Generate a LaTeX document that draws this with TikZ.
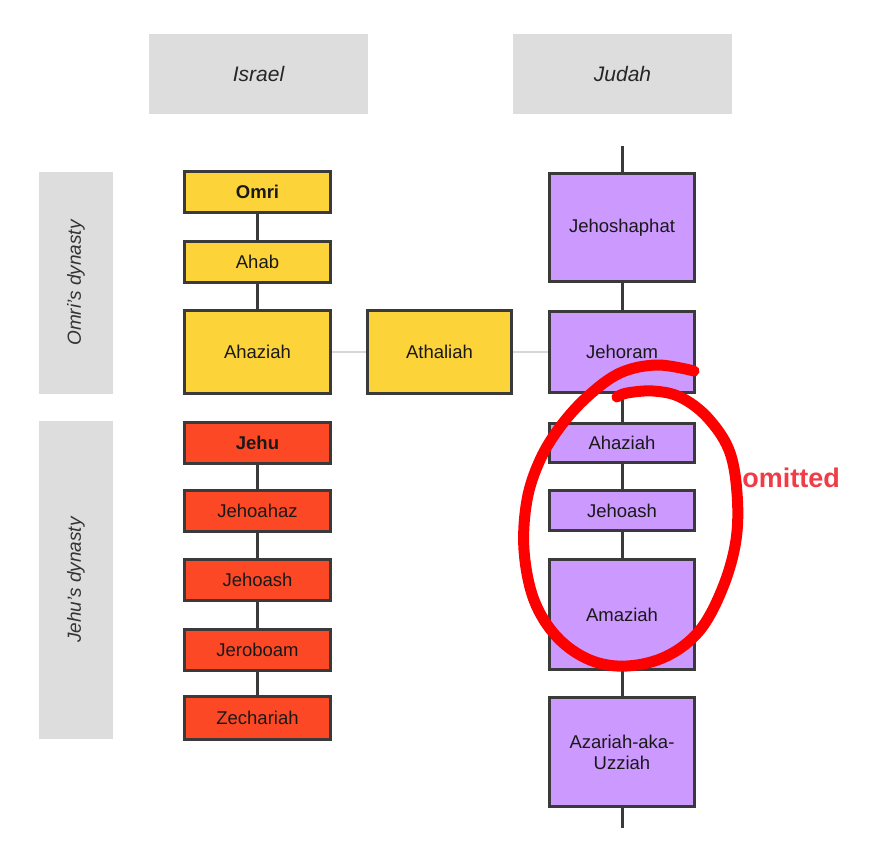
\documentclass[tikz,border=0pt]{standalone}
\usepackage{fontspec}
\setmainfont{Liberation Sans}
\definecolor{kyellow}{RGB}{253,211,58}
\definecolor{kred}{RGB}{252,72,36}
\definecolor{kpurple}{RGB}{204,153,255}
\definecolor{lanegray}{RGB}{221,221,221}
\definecolor{edgegray}{RGB}{58,58,58}
\definecolor{linkgray}{RGB}{215,215,215}
\definecolor{omitred}{RGB}{240,60,70}
\begin{document}
\begin{tikzpicture}[x=1pt,y=-1pt,
  king/.style={draw=edgegray,line width=3pt,minimum width=146pt,minimum height=41pt,
    inner sep=0pt,align=center,font=\fontsize{18.5}{21}\selectfont,text=black!90},
  israel/.style={king,fill=kyellow},
  jehuline/.style={king,fill=kred},
  judah/.style={king,fill=kpurple,minimum width=145pt},
  header/.style={fill=lanegray,minimum width=219pt,minimum height=80pt,inner sep=0pt,
    font=\fontsize{21}{24}\selectfont\itshape,text=black!85},
  lane/.style={fill=lanegray,minimum width=74pt,inner sep=0pt,
    font=\fontsize{19}{22}\selectfont\itshape,text=black!80},
  succ/.style={draw=edgegray,line width=3pt},
  marry/.style={draw=linkgray,line width=1.5pt}]
\useasboundingbox (0,0) rectangle (880,857);
% headers
\node[header] (hisr) at (258.5,74) {Israel};
\node[header] (hjud) at (622.5,74) {Judah};
% lanes
\node[lane,minimum height=222pt] (lomri) at (76,283) {};
\node[rotate=90,font=\fontsize{19}{22}\selectfont\itshape,text=black!80] (tomri) at (76,283) {Omri's dynasty};
\node[lane,minimum height=318pt] (ljehu) at (76,580) {};
\node[rotate=90,font=\fontsize{19}{22}\selectfont\itshape,text=black!80] (tjehu) at (76,580) {Jehu's dynasty};
% Israel
\node[israel] (omri) at (257.5,192) {\textbf{Omri}};
\node[israel] (ahab) at (257.5,262) {Ahab};
\node[israel,minimum height=83pt] (ahaz) at (257.5,352) {Ahaziah};
\node[israel,minimum height=83pt,minimum width=144pt] (atha) at (439.5,352) {Athaliah};
\node[jehuline] (jehu) at (257.5,442.5) {\textbf{Jehu}};
\node[jehuline] (jhz) at (257.5,510.5) {Jehoahaz};
\node[jehuline] (jhs) at (257.5,580) {Jehoash};
\node[jehuline] (jer) at (257.5,649.5) {Jeroboam};
\node[jehuline,minimum height=43pt] (zec) at (257.5,718) {Zechariah};
% Judah
\coordinate (jtop) at (622,146);
\coordinate (jbot) at (622,828);
\node[judah,minimum height=108pt] (jshp) at (622,227.5) {Jehoshaphat};
\node[judah,minimum height=81pt] (jhrm) at (622,352) {Jehoram};
\node[judah,minimum height=39pt] (jahz) at (622,443) {Ahaziah};
\node[judah,minimum height=40pt] (jjhs) at (622,510.5) {Jehoash};
\node[judah,minimum height=110pt] (amaz) at (622,614.5) {Amaziah};
\node[judah,minimum height=109pt] (azar) at (622,752) {Azariah-aka-\\Uzziah};
% succession lines
\draw[succ] (omri) -- (ahab);
\draw[succ] (ahab) -- (ahaz);
\draw[succ] (jehu) -- (jhz);
\draw[succ] (jhz) -- (jhs);
\draw[succ] (jhs) -- (jer);
\draw[succ] (jer) -- (zec);
\draw[succ] (jtop) -- (jshp);
\draw[succ] (jshp) -- (jhrm);
\draw[succ] (jhrm) -- (jahz);
\draw[succ] (jahz) -- (jjhs);
\draw[succ] (jjhs) -- (amaz);
\draw[succ] (amaz) -- (azar);
\draw[succ] (azar) -- (jbot);
% marriage links
\draw[marry] (ahaz) -- (atha);
\draw[marry] (atha) -- (jhrm);
% red hand-drawn loop
\draw[red,line width=11pt,line cap=round,line join=round] plot[smooth,tension=0.6] coordinates {
 (694,371) (657,365) (620,373) (587,397) (560,427) (540,460) (527,500) (524,550)
 (534,600) (557,637) (590,660) (627,666) (667,656) (700,630) (723,587) (736,540)
 (737,493) (729,450) (707,417) (680,397) (653,391) (627,393) (617,397)};
\node[font=\fontsize{27}{30}\selectfont\bfseries,text=omitred,inner sep=0pt] (omit) at (791,478) {omitted};
\end{tikzpicture}
\end{document}
